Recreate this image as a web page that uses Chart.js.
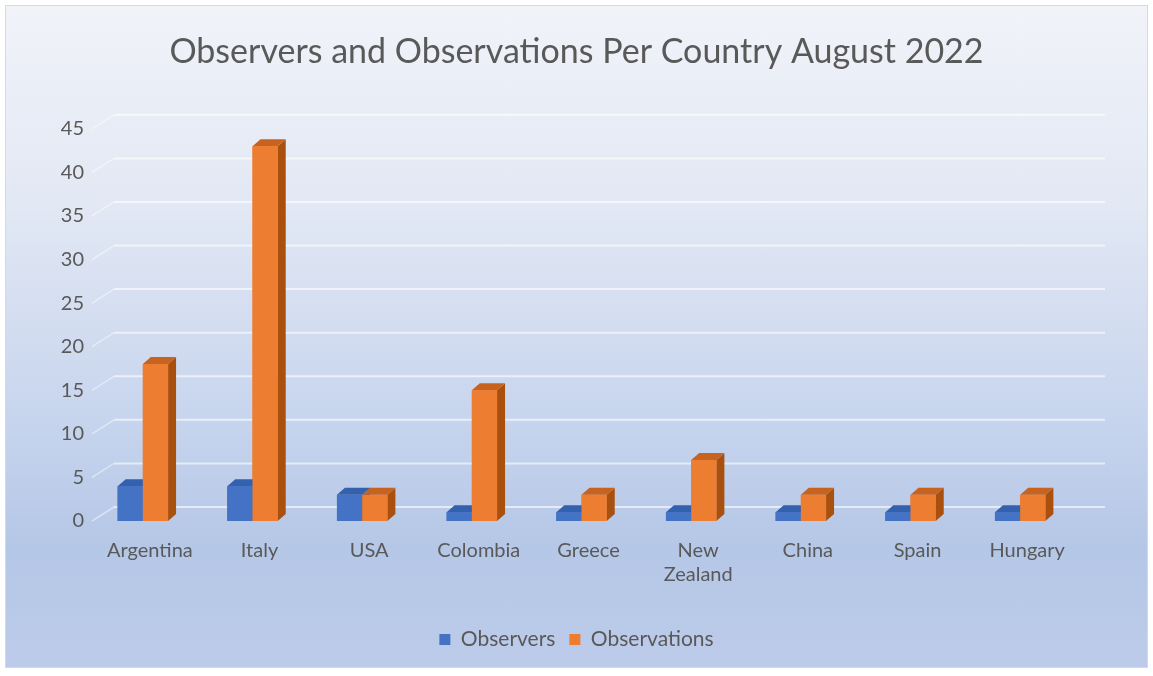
<!DOCTYPE html>
<html>
<head>
<meta charset="utf-8">
<script src="https://cdn.jsdelivr.net/npm/chart.js@4.4.0/dist/chart.umd.min.js"></script>
<style>
  html, body { margin: 0; padding: 0; background: #ffffff; }
  #frame {
    position: absolute; left: 5px; top: 5px; width: 1141px; height: 661px;
    border: 1px solid #d6d9de;
    background: linear-gradient(180deg, #f1f3f9 0%, #e2e8f4 30%, #c9d6ee 60%, #b5c7e7 82%, #bccbe9 100%);
  }
  #wrap { position: absolute; left: 0; top: 0; width: 1153px; height: 676px; }
</style>
</head>
<body>
<div id="frame"></div>
<div id="wrap"><canvas id="myChart"></canvas></div>
<script>
// data
let categories = ["Argentina", "Italy", "USA", "Colombia", "Greece", ["New", "Zealand"], "China", "Spain", "Hungary"];
let observers = [4, 4, 3, 1, 1, 1, 1, 1, 1];
let observations = [18, 43, 3, 15, 3, 7, 3, 3, 3];
let yMin = 0;
let yMax = 45;
let yStep = 5;

let textColor = "#595959";
let fontFamily = "Lato, 'Open Sans', sans-serif";

// 3d look
let wallDx = 22, wallDy = 14;
let barDx = 8, barDy = 7;

let faces = [
  { front: "#4472c4", top: "#3461ad", side: "#2c5293" },
  { front: "#ed7d31", top: "#c8631f", side: "#a9500f" },
];

const wallGrid = {
  id: "wallGrid",
  beforeDatasetsDraw(chart) {
    let { ctx, chartArea } = chart;
    let y = chart.scales.y;
    ctx.save();
    y.ticks.forEach((t) => {
      let py = y.getPixelForValue(t.value);
      ctx.strokeStyle = "rgba(255,255,255,0.45)";
      ctx.lineWidth = 1.5;
      ctx.beginPath();
      ctx.moveTo(chartArea.left + 4, py);
      ctx.lineTo(chartArea.left + 4 + wallDx, py - wallDy);
      ctx.stroke();
      ctx.strokeStyle = "rgba(255,255,255,0.6)";
      ctx.lineWidth = 2;
      ctx.beginPath();
      ctx.moveTo(chartArea.left + 4 + wallDx, py - wallDy);
      ctx.lineTo(chartArea.right + wallDx + 8, py - wallDy);
      ctx.stroke();
    });
    ctx.restore();
  },
};

// side + top faces, then the front again so that the next bar covers the previous side
const barDepth = {
  id: "barDepth",
  afterDatasetsDraw(chart) {
    let { ctx } = chart;
    ctx.save();
    chart.data.datasets.forEach((ds, i) => {
      let f = faces[i];
      chart.getDatasetMeta(i).data.forEach((bar) => {
        let { x, y, base, width } = bar.getProps(["x", "y", "base", "width"], true);
        let x0 = x - width / 2, x1 = x + width / 2;
        ctx.fillStyle = f.side;
        ctx.beginPath();
        ctx.moveTo(x1, y);
        ctx.lineTo(x1 + barDx, y - barDy);
        ctx.lineTo(x1 + barDx, base - barDy);
        ctx.lineTo(x1, base);
        ctx.closePath();
        ctx.fill();
        ctx.fillStyle = f.top;
        ctx.beginPath();
        ctx.moveTo(x0, y);
        ctx.lineTo(x0 + barDx, y - barDy);
        ctx.lineTo(x1 + barDx, y - barDy);
        ctx.lineTo(x1, y);
        ctx.closePath();
        ctx.fill();
        ctx.fillStyle = f.front;
        ctx.fillRect(x0, y, width, base - y);
      });
    });
    ctx.restore();
  },
};

function renderChart() {
  const ctx = document.getElementById("myChart").getContext("2d");
  new Chart(ctx, {
    type: "bar",
    data: {
      labels: categories,
      datasets: [
        { label: "Observers", data: observers, backgroundColor: faces[0].front },
        { label: "Observations", data: observations, backgroundColor: faces[1].front },
      ],
    },
    options: {
      responsive: true,
      maintainAspectRatio: false,
      animation: false,
      categoryPercentage: 0.46,
      barPercentage: 1,
      layout: { padding: { left: 0, right: 0, top: 22, bottom: 16 } },
      plugins: {
        title: {
          display: true,
          text: "Observers and Observations Per Country August 2022",
          color: textColor,
          font: { family: fontFamily, size: 34, weight: "normal" },
          padding: { top: 10, bottom: 56 },
        },
        legend: {
          position: "bottom",
          labels: {
            color: textColor,
            font: { family: fontFamily, size: 21 },
            boxWidth: 11,
            boxHeight: 11,
            padding: 14,
          },
        },
        tooltip: { enabled: false },
      },
      scales: {
        x: {
          grid: { display: false, drawTicks: false },
          border: { display: false },
          ticks: {
            color: textColor,
            font: { family: fontFamily, size: 20 },
            padding: 18,
            labelOffset: 7,
            maxRotation: 0,
            autoSkip: false,
          },
          afterFit(scale) {
            scale.height += 10;
          },
        },
        y: {
          min: yMin,
          max: yMax,
          grid: { display: false, drawTicks: false },
          border: { display: false },
          ticks: {
            stepSize: yStep,
            color: textColor,
            font: { family: fontFamily, size: 20 },
            padding: 4,
          },
          afterFit(scale) {
            scale.width = 88;
          },
        },
        // empty axis that only reserves room on the right
        yRight: {
          position: "right",
          grid: { display: false, drawTicks: false },
          border: { display: false },
          ticks: { display: false },
          afterFit(scale) {
            scale.width = 78;
          },
        },
      },
    },
    plugins: [wallGrid, barDepth],
  });
}

document.addEventListener("DOMContentLoaded", () => {
  renderChart();
});
</script>
</body>
</html>
